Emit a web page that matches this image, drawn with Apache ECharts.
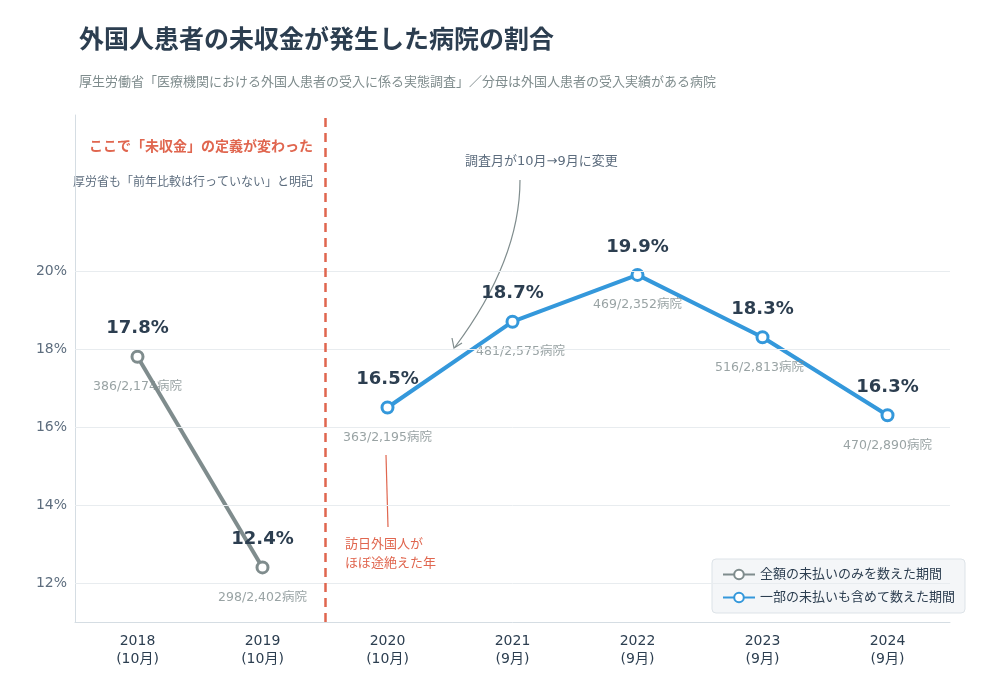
<!DOCTYPE html>
<html>
<head>
<meta charset="utf-8">
<script src="https://cdn.jsdelivr.net/npm/echarts@6/dist/echarts.min.js"></script>
<style>
  html, body { margin: 0; padding: 0; background: #fff; }
  #chart { width: 1002px; height: 695px; }
</style>
</head>
<body>
<div id="chart"></div>
<script>
// --- Data ---
const years = ['2018\n(10月)', '2019\n(10月)', '2020\n(10月)', '2021\n(9月)', '2022\n(9月)', '2023\n(9月)', '2024\n(9月)'];
const fullPay = [17.8, 12.4, '-', '-', '-', '-', '-'];
const partPay = ['-', '-', 16.5, 18.7, 19.9, 18.3, 16.3];
const rates = [17.8, 12.4, 16.5, 18.7, 19.9, 18.3, 16.3];
const counts = ['386/2,174病院', '298/2,402病院', '363/2,195病院', '481/2,575病院', '469/2,352病院', '516/2,813病院', '470/2,890病院'];
const countShift = [0, 0, 0, 8, 0, -3, 0];
const yTicks = [12, 14, 16, 18, 20];

const FONT = '"DejaVu Sans", "Noto Sans CJK JP", sans-serif';
const GREY = '#7f8c8d';
const BLUE = '#3498db';
const DARK = '#2c3e50';
const RED = '#e0664f';

const chart = echarts.init(document.getElementById('chart'), null, { renderer: 'canvas' });

function lineSeries(name, data, color) {
  return {
    name,
    type: 'line',
    data,
    symbol: 'circle',
    symbolSize: 11,
    lineStyle: { color, width: 4 },
    itemStyle: { color: '#fff', borderColor: color, borderWidth: 3 },
    label: {
      show: true, position: 'top', distance: 12,
      formatter: p => p.value.toFixed(1) + '%',
      color: DARK, fontSize: 18, fontWeight: 'bold', fontFamily: FONT,
    },
    z: 3,
  };
}

chart.setOption({
  backgroundColor: '#fff',
  textStyle: { fontFamily: FONT },
  title: {
    text: '外国人患者の未収金が発生した病院の割合',
    subtext: '厚生労働省「医療機関における外国人患者の受入に係る実態調査」／分母は外国人患者の受入実績がある病院',
    left: 74, top: 24, itemGap: 22,
    textStyle: { fontSize: 25, fontWeight: 'bold', color: DARK, fontFamily: FONT },
    subtextStyle: { fontSize: 13, color: '#7f8c8d', fontFamily: FONT },
  },
  grid: { left: 75, right: 52, top: 115, bottom: 73 },
  legend: {
    orient: 'vertical', right: 37, bottom: 82,
    itemWidth: 32, itemHeight: 12, itemGap: 10,
    padding: [9, 10], backgroundColor: '#f4f6f8', borderColor: '#dde3e8', borderWidth: 1, borderRadius: 4,
    textStyle: { fontSize: 13, color: DARK, fontFamily: FONT },
    data: ['全額の未払いのみを数えた期間', '一部の未払いも含めて数えた期間'],
  },
  xAxis: [
    {
      type: 'category', data: years, boundaryGap: true,
      axisLine: { onZero: false, lineStyle: { color: '#d5dde3' } },
      axisTick: { show: false },
      axisLabel: { color: DARK, fontSize: 14, lineHeight: 18, margin: 10, fontFamily: FONT },
    },
    { type: 'value', min: -0.5, max: 6.5, show: false },
  ],
  yAxis: {
    type: 'value', min: 11, max: 24,
    axisLine: { show: true, onZero: false, lineStyle: { color: '#d5dde3' } },
    axisTick: { show: false },
    splitLine: { show: false },
    axisLabel: {
      customValues: yTicks, formatter: v => v + '%',
      color: '#5d6d7e', fontSize: 14, fontFamily: FONT,
    },
  },
  series: [
    lineSeries('全額の未払いのみを数えた期間', fullPay, GREY),
    lineSeries('一部の未払いも含めて数えた期間', partPay, BLUE),
    {
      name: 'counts', type: 'scatter', symbolSize: 0, silent: true,
      data: rates.map((v, i) => ({
        value: [i, v],
        label: { offset: [countShift[i], 0] },
      })),
      label: {
        show: true, position: 'bottom', distance: 24,
        formatter: p => counts[p.dataIndex],
        color: '#7f8c8d', fontSize: 12.5, fontFamily: FONT,
      },
      z: 4,
    },
    {
      name: 'guides', type: 'line', xAxisIndex: 1, data: [], silent: true,
      markLine: {
        symbol: 'none', silent: true, label: { show: false },
        data: [
          ...yTicks.map(v => ({ yAxis: v, lineStyle: { color: '#e8ecef', width: 1, type: 'solid' } })),
          { xAxis: 1.5, lineStyle: { color: RED, width: 2.5, type: [9, 6] } },
        ],
      },
      z: 1,
    },
  ],
  graphic: [
    { type: 'text', right: 1002 - 313, top: 140, style: { text: 'ここで「未収金」の定義が変わった', fill: RED, fontSize: 14, fontWeight: 'bold', fontFamily: FONT } },
    { type: 'text', right: 1002 - 313, top: 177, style: { text: '厚労省も「前年比較は行っていない」と明記', fill: '#5d6d7e', fontSize: 12, fontFamily: FONT } },
    { type: 'text', left: 465, top: 155, style: { text: '調査月が10月→9月に変更', fill: '#5d6d7e', fontSize: 13, fontFamily: FONT } },
    { type: 'bezierCurve', shape: { x1: 520, y1: 180, cpx1: 520, cpy1: 260, x2: 455, y2: 347 }, style: { stroke: '#7f8c8d', lineWidth: 1.2, fill: null } },
    { type: 'polyline', shape: { points: [[452, 338], [454, 348], [462, 343]] }, style: { stroke: '#7f8c8d', lineWidth: 1.2, fill: null } },
    { type: 'line', shape: { x1: 386, y1: 455, x2: 388, y2: 527 }, style: { stroke: RED, lineWidth: 1.2 } },
    { type: 'text', left: 345, top: 535, style: { text: '訪日外国人が\nほぼ途絶えた年', fill: RED, fontSize: 13, lineHeight: 19, fontFamily: FONT, align: 'center' } },
  ],
});
</script>
</body>
</html>
